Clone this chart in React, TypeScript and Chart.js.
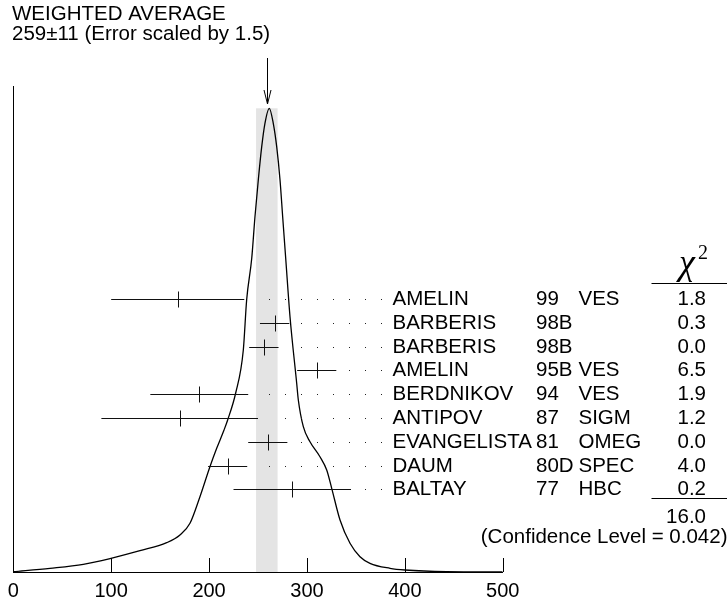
import React, { useEffect, useRef } from "react";
import { Chart, registerables } from "chart.js";

Chart.register(...registerables);

// ---------- data ----------
const xTicks = [0, 100, 200, 300, 400, 500];
const titleLines = ["WEIGHTED AVERAGE", "259\u00B111 (Error scaled by 1.5)"];
const averageValue = 259;
const averageError = 11;

const names = ["AMELIN", "BARBERIS", "BARBERIS", "AMELIN", "BERDNIKOV", "ANTIPOV", "EVANGELISTA", "DAUM", "BALTAY"];
const years = ["99", "98B", "98B", "95B", "94", "87", "81", "80D", "77"];
const experiments = ["VES", "", "", "VES", "VES", "SIGM", "OMEG", "SPEC", "HBC"];
const chi2Labels = ["1.8", "0.3", "0.0", "6.5", "1.9", "1.2", "0.0", "4.0", "0.2"];
const values = [168, 267, 256, 310, 190, 170, 260, 219, 285];
const errors = [68, 15, 15, 20, 50, 80, 20, 20, 60];
const chi2Total = "16.0";
const confidenceText = "(Confidence Level = 0.042)";

// ideogram curve (x value, height)
const curveX = [0, 37.5, 71.5, 99.8, 129.4, 156.7, 170.3, 180.5, 190.7, 200.9, 207.8, 215.3, 219, 227.2, 235, 238.4, 243.6, 246.9, 250.3, 253.8, 257.1, 261.5, 265.6, 269.1, 272.5, 275.2, 278.3, 282.7, 289.5, 291.2, 296.3, 303.1, 313.3, 320.2, 325.3, 333.8, 344, 354.2, 364.4, 384.9, 400.2, 442.8, 500];
const curveY = [0.3, 3.7, 7.7, 13.7, 21.3, 29.3, 37, 48.7, 75.3, 105.3, 123.7, 142, 152, 179, 222, 272, 313.7, 355.3, 392, 425.3, 448.7, 463.7, 448.7, 425.3, 392, 355.3, 313.7, 255.3, 189, 172, 145.3, 130.3, 115.3, 102, 83.7, 52, 28.7, 15.3, 8.7, 3.7, 2, 0.3, 0];

// ---------- layout / style ----------
const FONT = "'Liberation Sans', Arial, Helvetica, sans-serif";
const SERIF = "'Liberation Serif', 'Times New Roman', serif";
const TEXT_SIZE = 20.5;
const ROW_TOP = 299;
const ROW_STEP = 23.8;

const overlayPlugin = {
  id: "pdgOverlay",
  beforeDatasetsDraw(chart: any) {
    const { ctx, scales } = chart;
    const x = scales.x, y = scales.y;
    const l = x.getPixelForValue(averageValue - averageError);
    const r = x.getPixelForValue(averageValue + averageError);
    const top = y.getPixelForValue(Math.max(...curveY));
    const bottom = y.getPixelForValue(0);
    ctx.save();
    ctx.fillStyle = "#e4e4e4";
    ctx.fillRect(l, top, r - l, bottom - top);
    ctx.restore();
  },
  afterDraw(chart: any) {
    const { ctx, scales } = chart;
    const x = scales.x, y = scales.y;
    const bottom = Math.round(y.getPixelForValue(0));
    ctx.save();
    ctx.strokeStyle = "#000";
    ctx.lineWidth = 1;

    // inner tick marks
    xTicks.forEach((v) => {
      if (v === 0) return;
      const px = Math.round(x.getPixelForValue(v)) + 0.5;
      ctx.beginPath();
      ctx.moveTo(px, bottom);
      ctx.lineTo(px, bottom - 14);
      ctx.stroke();
    });

    // measurements
    ctx.font = `${TEXT_SIZE}px ${FONT}`;
    ctx.textBaseline = "middle";
    ctx.fillStyle = "#000";
    for (let i = 0; i < values.length; i++) {
      const cy = Math.round(ROW_TOP + i * ROW_STEP) + 0.5;
      const lo = x.getPixelForValue(values[i] - errors[i]);
      const hi = x.getPixelForValue(values[i] + errors[i]);
      const c = Math.round(x.getPixelForValue(values[i])) + 0.5;
      ctx.strokeStyle = "#111";
      ctx.beginPath();
      ctx.moveTo(lo, cy);
      ctx.lineTo(hi, cy);
      ctx.moveTo(c, cy - 8);
      ctx.lineTo(c, cy + 8);
      ctx.stroke();
      // dotted leader
      ctx.fillStyle = "#222";
      for (let k = 0; k < 12; k++) {
        const dx = 381 - 16 * k;
        if (dx > hi + 11.5) ctx.fillRect(Math.round(dx), Math.round(cy - 0.5), 1, 1);
      }
      ctx.fillStyle = "#000";
      ctx.textAlign = "left";
      ctx.fillText(names[i], 392.5, cy);
      ctx.fillText(years[i], 536, cy);
      ctx.fillText(experiments[i], 578.5, cy);
      ctx.textAlign = "right";
      ctx.fillText(chi2Labels[i], 706, cy);
    }

    // chi2 header & sums
    ctx.strokeStyle = "#000";
    ctx.beginPath();
    ctx.moveTo(651.5, 283.5);
    ctx.lineTo(727, 283.5);
    ctx.moveTo(651.5, 498.5);
    ctx.lineTo(727, 498.5);
    ctx.stroke();
    ctx.textAlign = "right";
    ctx.fillText(chi2Total, 706, 517);
    ctx.fillText(confidenceText, 727.5, 537);
    ctx.textBaseline = "alphabetic";
    ctx.textAlign = "center";
    ctx.font = `italic 36px ${SERIF}`;
    ctx.fillText("\u03C7", 687, 274);
    ctx.textAlign = "left";
    ctx.font = `20px ${SERIF}`;
    ctx.fillText("2", 698, 258.5);

    // title
    ctx.font = `${TEXT_SIZE}px ${FONT}`;
    ctx.textBaseline = "middle";
    ctx.textAlign = "left";
    ctx.fillText(titleLines[0], 12, 14);
    ctx.fillText(titleLines[1], 12, 34);

    // arrow
    const ax = Math.round(x.getPixelForValue(averageValue)) + 0.5;
    ctx.beginPath();
    ctx.moveTo(ax, 58);
    ctx.lineTo(ax, 104);
    ctx.moveTo(ax - 3.5, 90);
    ctx.lineTo(ax, 104);
    ctx.lineTo(ax + 3.5, 90);
    ctx.stroke();
    ctx.restore();
  },
};

export default function App() {
  const ref = useRef<HTMLCanvasElement | null>(null);
  useEffect(() => {
    document.body.style.margin = "0";
    const canvas = ref.current!;
    const chart = new Chart(canvas, {
      type: "scatter",
      data: {
        datasets: [
          {
            data: curveX.map((v, i) => ({ x: v, y: curveY[i] })),
            showLine: true,
            borderColor: "#000",
            borderWidth: 1.3,
            pointRadius: 0,
            cubicInterpolationMode: "monotone",
          },
        ],
      },
      options: {
        responsive: false,
        animation: false,
        devicePixelRatio: 1,
        layout: { padding: { left: 13.3, right: 224.3, top: 86, bottom: 0 } },
        plugins: { legend: { display: false }, tooltip: { enabled: false } },
        events: [],
        scales: {
          x: {
            type: "linear",
            min: 0,
            max: 500,
            afterBuildTicks: (s: any) => {
              s.ticks = xTicks.map((v) => ({ value: v }));
            },
            afterFit: (s: any) => {
              s.height = 34;
            },
            grid: { display: false, drawTicks: false },
            border: { display: true, color: "#000", width: 1 },
            ticks: {
              autoSkip: false,
              maxRotation: 0,
              padding: 7,
              color: "#000",
              font: { family: FONT, size: 20 },
              callback: (v: any) => String(v),
            },
          },
          y: {
            type: "linear",
            min: 0,
            max: 486,
            afterFit: (s: any) => {
              s.width = 0;
            },
            grid: { display: false, drawTicks: false },
            border: { display: true, color: "#000", width: 1 },
            ticks: { display: false },
          },
        },
      },
      plugins: [overlayPlugin],
    });
    return () => chart.destroy();
  }, []);
  return (
    <div style={{ width: 727, height: 606 }}>
      <canvas ref={ref} width={727} height={606} style={{ display: "block" }} />
    </div>
  );
}
